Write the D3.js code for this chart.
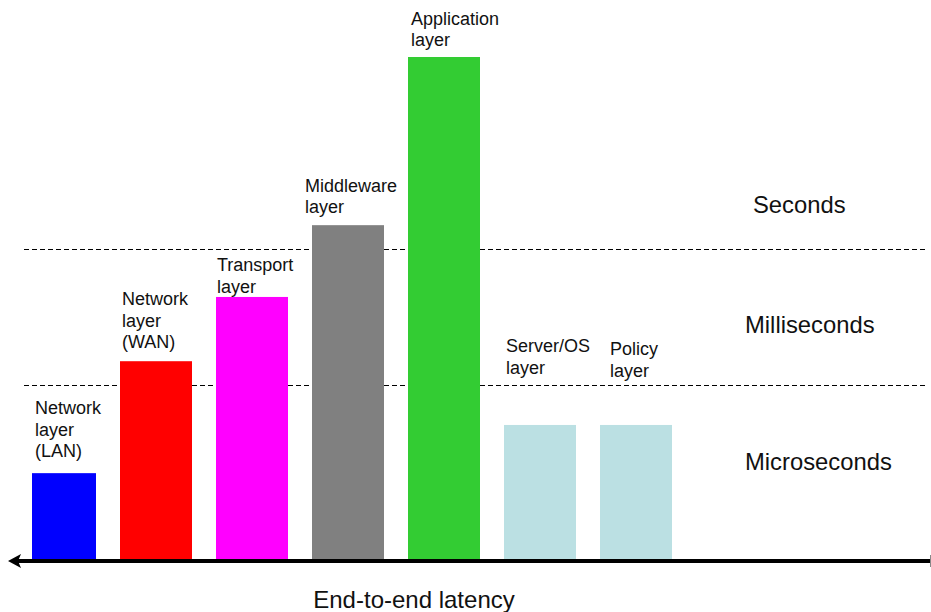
<!DOCTYPE html>
<html>
<head>
<meta charset="utf-8">
<script src="https://cdn.jsdelivr.net/npm/d3@7"></script>
<style>
  html, body { margin: 0; padding: 0; background: #fff; }
  svg { display: block; font-family: "Liberation Sans", Arial, sans-serif; }
</style>
</head>
<body>
<svg id="chart" width="931" height="612"></svg>
<script>
//
// Data
//

// layers along the end-to-end path
var layers = ['lan', 'wan', 'transport', 'middleware', 'application', 'server', 'policy']
// label text, one entry per line
var layerLabels = [
  ['Network', 'layer', '(LAN)'],
  ['Network', 'layer', '(WAN)'],
  ['Transport', 'layer'],
  ['Middleware', 'layer'],
  ['Application', 'layer'],
  ['Server/OS', 'layer'],
  ['Policy', 'layer']
]
// relative latency (application layer = 100)
var latency = [17.1, 39.4, 52.2, 66.5, 100, 26.7, 26.7]
var layerColors = ['#0000ff', '#ff0000', '#ff00ff', '#808080', '#33cc33', '#bbe0e3', '#bbe0e3']

// band boundaries on the same latency scale
var bandNames = ['Microseconds', 'Milliseconds', 'Seconds']
var bandThresholds = [34.7, 61.8]
var axisTitle = 'End-to-end latency'

//
// Layout
//

var svg = d3.select('#chart')
var baseY = 559

var x = d3.scaleBand()
  .domain(layers)
  .range([24, 672])
  .paddingInner(0.25)
  .paddingOuter(0)

var y = d3.scaleLinear()
  .domain([0, 100])
  .range([baseY, 57])

// per-bar label tweaks: dx from band left, gap between last baseline and bar top
var labelDx = [11, 2, 1, -7, 3, 2, 10]
var labelGap = [16, 13, 4, 12, 11, null, null]
// the two short bars have labels sitting just under the ms line
var fixedLabelTop = { server: 352, policy: 355 }
var lineH = 21.5

//
// Dashed band separators
//

svg.selectAll('line.sep')
  .data(bandThresholds)
  .enter().append('line')
  .attr('class', 'sep')
  .attr('x1', 24)
  .attr('x2', 925)
  .attr('y1', function(d) { return Math.round(y(d)) + 0.5 })
  .attr('y2', function(d) { return Math.round(y(d)) + 0.5 })
  .attr('stroke', '#000')
  .attr('stroke-width', 1.2)
  .attr('stroke-dasharray', '5,3')

//
// Bars
//

svg.selectAll('rect.bar')
  .data(layers)
  .enter().append('rect')
  .attr('class', 'bar')
  .attr('x', function(d, i) { return i === 0 ? x(d) + 8 : x(d) })
  .attr('width', function(d, i) { return i === 0 ? x.bandwidth() - 8 : x.bandwidth() })
  .attr('y', function(d, i) { return y(latency[i]) })
  .attr('height', function(d, i) { return baseY - y(latency[i]) })
  .attr('fill', function(d, i) { return layerColors[i] })

//
// Bar labels
//

layers.forEach(function(d, i) {
  var lines = layerLabels[i]
  var firstBase
  if (fixedLabelTop[d] !== undefined) {
    firstBase = fixedLabelTop[d]
  } else {
    firstBase = y(latency[i]) - labelGap[i] - (lines.length - 1) * lineH
  }
  var t = svg.append('text')
    .attr('x', x(d) + labelDx[i])
    .attr('y', firstBase)
    .attr('font-size', 18)
    .attr('fill', '#111')
  lines.forEach(function(l, k) {
    t.append('tspan')
      .attr('x', x(d) + labelDx[i])
      .attr('y', firstBase + k * lineH)
      .text(l)
  })
})

//
// Band names on the right
//

var bandTextY = [470, 333, 213]
var bandTextX = [745, 745, 753]
svg.selectAll('text.band')
  .data(bandNames)
  .enter().append('text')
  .attr('class', 'band')
  .attr('x', function(d, i) { return bandTextX[i] })
  .attr('y', function(d, i) { return bandTextY[i] })
  .attr('font-size', 23.8)
  .attr('fill', '#111')
  .text(function(d) { return d })

//
// Axis with arrow pointing left
//

svg.append('line')
  .attr('x1', 18)
  .attr('x2', 930)
  .attr('y1', 561)
  .attr('y2', 561)
  .attr('stroke', '#000')
  .attr('stroke-width', 4)

svg.append('path')
  .attr('d', 'M8,561 L21,554 L18,561 L21,568 Z')
  .attr('fill', '#000')

svg.append('line')
  .attr('x1', 930.5)
  .attr('x2', 930.5)
  .attr('y1', 555)
  .attr('y2', 567)
  .attr('stroke', '#888')
  .attr('stroke-width', 1)

svg.append('text')
  .attr('x', 414)
  .attr('y', 608)
  .attr('text-anchor', 'middle')
  .attr('font-size', 24)
  .attr('fill', '#111')
  .text(axisTitle)
</script>
</body>
</html>
